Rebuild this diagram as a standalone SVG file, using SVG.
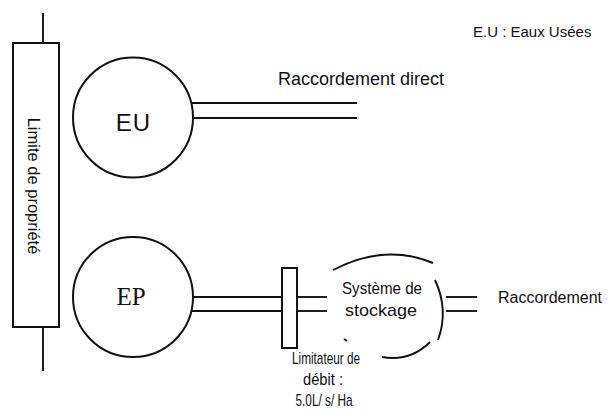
<svg xmlns="http://www.w3.org/2000/svg" width="613" height="414" viewBox="0 0 613 414">
<style>
.ln{stroke:#111;stroke-width:1.9;fill:none}
.sh{stroke:#111;stroke-width:2;fill:#fff}
.cal{font-family:"Liberation Sans",Arial,sans-serif;fill:#111}
.nar{font-family:"Liberation Sans",Arial,sans-serif;fill:#111}
</style>
<rect width="613" height="414" fill="#fff"/>
<g id="connectors">
<line class="ln" x1="43" y1="13" x2="43" y2="43"/>
<line class="ln" x1="43" y1="327" x2="43" y2="371"/>
<line class="ln" x1="191" y1="103" x2="357" y2="103"/>
<line class="ln" x1="192" y1="118" x2="357" y2="118"/>
<line class="ln" x1="192" y1="297" x2="282" y2="297"/>
<line class="ln" x1="191" y1="311" x2="282" y2="311"/>
<line class="ln" x1="297" y1="297" x2="327" y2="297"/>
<line class="ln" x1="297" y1="311" x2="327" y2="311"/>
<line class="ln" x1="446" y1="297" x2="477" y2="297"/>
<line class="ln" x1="446" y1="311" x2="477" y2="311"/>
</g>
<g id="limite">
<rect class="sh" x="13" y="43" width="46" height="284"/>
<text class="nar" font-size="16.5" text-anchor="middle" transform="translate(28,186) rotate(90)">Limite de propriété</text>
</g>
<g id="eu">
<circle class="sh" cx="133" cy="117.5" r="60"/>
<text class="nar" x="133.5" y="131" font-size="24" text-anchor="middle" letter-spacing="1">EU</text>
</g>
<g id="ep">
<circle class="sh" cx="133" cy="297" r="60"/>
<text x="131" y="305" font-family="'Liberation Serif','Times New Roman',serif" font-size="25" fill="#111" text-anchor="middle">EP</text>
</g>
<g id="limitateur">
<rect class="sh" x="282" y="268" width="15" height="80"/>
<text class="nar" x="326" y="364" font-size="17" text-anchor="middle" textLength="68" lengthAdjust="spacingAndGlyphs">Limitateur de</text>
<text class="nar" x="323" y="385" font-size="17" text-anchor="middle" textLength="40" lengthAdjust="spacingAndGlyphs">débit :</text>
<text class="nar" x="324" y="406" font-size="17" text-anchor="middle" textLength="57" lengthAdjust="spacingAndGlyphs">5.0L/ s/ Ha</text>
</g>
<g id="stockage">
<path class="ln" d="M333,270 Q385,243 433,263"/>
<path class="ln" d="M435,280 Q449,310 438,340"/>
<path class="ln" d="M430,342 Q410,362 382,357"/>
<path class="ln" d="M344,339 L347,341"/>
<text class="nar" x="382" y="294" font-size="17" text-anchor="middle" textLength="80" lengthAdjust="spacingAndGlyphs">Système de</text>
<text class="nar" x="381" y="316" font-size="17" text-anchor="middle" textLength="72" lengthAdjust="spacingAndGlyphs">stockage</text>
</g>
<g id="labels">
<text class="cal" x="278" y="85" font-size="18">Raccordement direct</text>
<text class="cal" x="498" y="303" font-size="16">Raccordement</text>
<text class="cal" x="473" y="37" font-size="15">E.U : Eaux Usées</text>
</g>
</svg>
